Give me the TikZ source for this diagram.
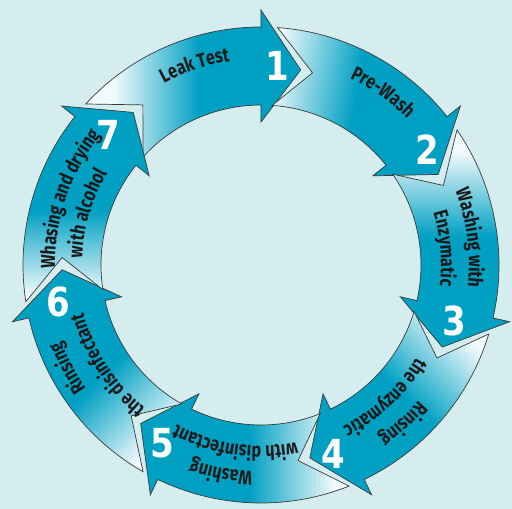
\documentclass[tikz,border=0pt]{standalone}
\usepackage{fontspec}
\usetikzlibrary{decorations.text}
\newfontfamily\lblfont{Fira Sans}[FakeStretch=0.8]
\newfontfamily\numfont{DejaVu Sans}[FakeStretch=0.85]
\definecolor{bgc}{HTML}{D5EDEF}
\definecolor{tealc}{HTML}{00A0C3}
\definecolor{linec}{HTML}{3A3A3A}
\definecolor{txtc}{HTML}{1A1A1A}
\newcommand\arclabel[3]{%
  \path[lbl, decoration={text={|\lblfont\bfseries\fontsize{20}{20}\selectfont|#3}}]
    (#1+50:#2) arc[start angle=#1+50, end angle=#1-50, radius=#2];}
\begin{document}
\begin{tikzpicture}[x=1pt,y=1pt,
  outline/.style={draw=linec, line width=0.7pt, line join=miter},
  numstyle/.style={text=white, font=\numfont\bfseries\fontsize{40}{40}\selectfont, inner sep=0pt},
  lbl/.style={decorate, decoration={text along path, text align=center, text color=txtc}}]
\useasboundingbox (-261,-244) rectangle (251,265);
\fill[bgc] (-261,-244) rectangle (251,265);
\foreach \k/\dir in {1/0,2/-10,3/-90,4/-135,5/180,6/135,7/90} {
  \pgfmathsetmacro\ab{90-(\k-1)*360/7}
  \pgfmathsetmacro\at{\ab+47.4286}
  \pgfmathsetmacro\tip{\ab-11.5}
  \pgfmathsetmacro\nt{\at-11}
  \def\apath{(\at:238) arc[start angle=\at, end angle=\ab, radius=238] -- (\ab:255) -- (\tip:199) -- (\ab:143) -- (\ab:160) arc[start angle=\ab, end angle=\at, radius=160] -- (\nt:199) -- cycle}
  \begin{scope}
    \clip \apath;
    \begin{scope}[shift={(\at:199)}, rotate=\dir]
      \fill[tealc!5!white] (-500,-500) rectangle (0.3,500);
      \foreach \i in {0,...,33} {
        \pgfmathsetmacro\pc{5+(\i+0.5)*95/34}
        \fill[tealc!\pc!white] (\i*2.5,-500) rectangle (\i*2.5+2.8,500);
      }
      \fill[tealc] (85,-500) rectangle (600,500);
    \end{scope}
  \end{scope}
  \draw[outline] \apath;
}
\arclabel{108.4}{206}{Leak Test}
\arclabel{54.8}{207}{Pre-Wash}
\arclabel{7.4}{208}{Washing with}
\arclabel{5.1}{180}{Enzymatic}
\arclabel{-48.2}{208}{Rinsing}
\arclabel{-47}{181}{the enzymatic}
\arclabel{-100.9}{207}{Washing}
\arclabel{-98.2}{181}{with disinfectant}
\arclabel{-152}{214}{Rinsing}
\arclabel{-147}{184}{the disinfectant}
\arclabel{161}{206}{Whasing and drying}
\arclabel{163.5}{179}{with alcohol}
\node[numstyle] (n1) at (16,199) {1};
\node[numstyle] (n2) at (166,115) {2};
\node[numstyle] (n3) at (193,-56) {3};
\node[numstyle] (n4) at (72,-189) {4};
\node[numstyle] (n5) at (-99,-178) {5};
\node[numstyle] (n6) at (-203,-37) {6};
\node[numstyle] (n7) at (-153,130) {7};
\end{tikzpicture}
\end{document}
